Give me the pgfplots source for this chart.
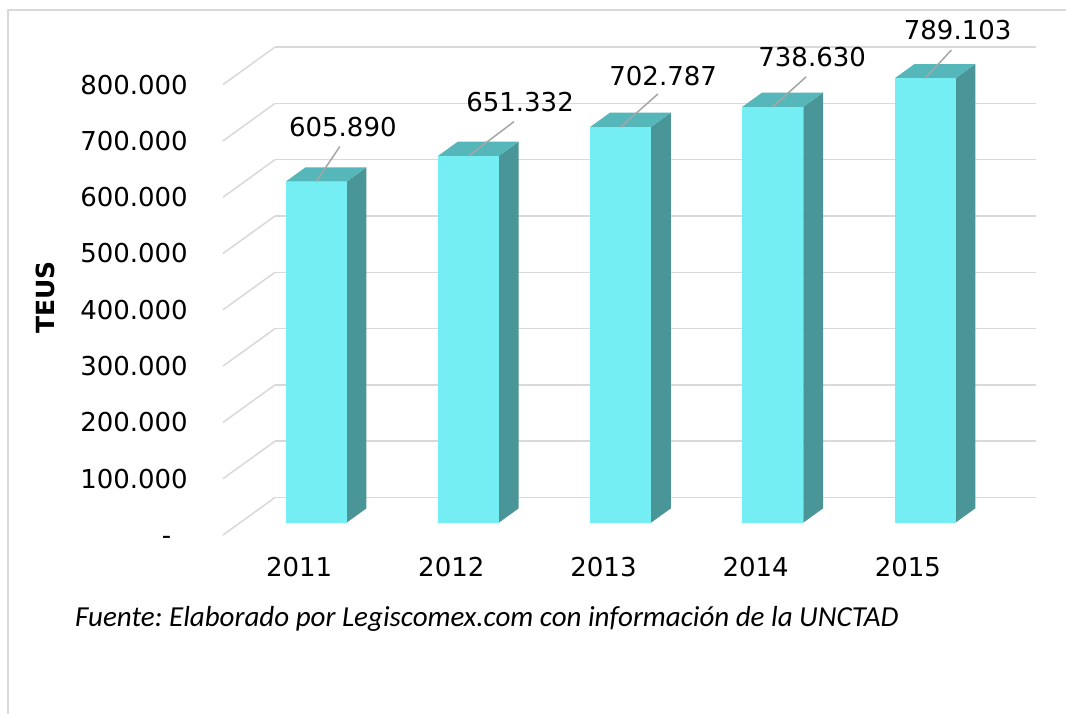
\documentclass[border=0pt]{standalone}
\usepackage{pgfplots}
\pgfplotsset{compat=1.18}
\usepackage{pgfplotstable}
\usepackage{fontspec}
\setmainfont{DejaVu Sans}
\newfontfamily\carlito{Carlito}
\definecolor{barfront}{HTML}{74EEF2}
\definecolor{bartop}{HTML}{55B7BA}
\definecolor{barside}{HTML}{4A9597}
\definecolor{gridgray}{HTML}{D9D9D9}
\definecolor{leadergray}{HTML}{A6A6A6}
\definecolor{framegray}{HTML}{D9D9D9}

% teus = value; lx,ly = label offset (pt); ex,ey = leader line end offset (pt)
\pgfplotstableread{
year teus lx ly ex ey
2011 605890 26.6 54.4 23.6 35.0
2012 651332 51.6 53.8 45.6 34.3
2013 702787 42.5 51.3 37.3 33.0
2014 738630 39.3 49.3 33.3 30.0
2015 789103 32.6 48.3 26.3 28.3
}\teusdata

\begin{document}
\frenchspacing
\begin{tikzpicture}
\useasboundingbox (0,0) rectangle (1066pt,713pt);
\fill[white] (0,0) rectangle (1066pt,713pt);
\draw[framegray, line width=2pt] (8pt,-5pt) -- (8pt,703pt) -- (1070pt,703pt);
\begin{axis}[
  at={(223pt,178pt)}, anchor=origin,
  x={(152.2pt,0pt)}, y={(52pt,37.5pt)}, z={(0pt,0.563pt)},
  xmin=0, xmax=5, ymin=0, ymax=1, zmin=0, zmax=800,
  clip=false,
  axis line style={draw=none},
  tick style={draw=none},
  zmajorgrids=true,
  major grid style={gridgray, line width=1.5pt},
  xtick={0.5,1.5,2.5,3.5,4.5},
  xticklabels={2011,2012,2013,2014,2015},
  ytick=\empty,
  ztick={0,100,200,300,400,500,600,700,800},
  zticklabels={{-\phantom{0}},100.000,200.000,300.000,400.000,500.000,600.000,700.000,800.000},
  tick label style={font=\fontsize{26}{31}\selectfont, inner sep=0pt, black},
  xticklabel style={anchor=center, yshift=-31.7pt},
  zticklabel style={anchor=east, xshift=-35pt},
]
\pgfplotsinvokeforeach{0,...,4}{
  \pgfplotstablegetelem{#1}{teus}\of\teusdata \let\tv\pgfplotsretval
  \pgfplotstablegetelem{#1}{lx}\of\teusdata \let\lx\pgfplotsretval
  \pgfplotstablegetelem{#1}{ly}\of\teusdata \let\ly\pgfplotsretval
  \pgfplotstablegetelem{#1}{ex}\of\teusdata \let\ex\pgfplotsretval
  \pgfplotstablegetelem{#1}{ey}\of\teusdata \let\ey\pgfplotsretval
  \pgfkeys{/pgf/fpu=true,/pgf/fpu/output format=fixed}
  \pgfmathsetmacro\h{\tv/1000}
  \pgfmathsetmacro\bc{#1+0.5}
  \pgfmathsetmacro\xl{#1+0.3}
  \pgfmathsetmacro\xr{#1+0.7}
  \pgfkeys{/pgf/fpu=false}
  \edef\temp{%
    \noexpand\addplot3[fill=barside, draw=none, mark=none] coordinates {(\xr,0.33,0) (\xr,0.71,0) (\xr,0.71,\h) (\xr,0.33,\h)};
    \noexpand\addplot3[fill=bartop, draw=none, mark=none] coordinates {(\xl,0.33,\h) (\xr,0.33,\h) (\xr,0.71,\h) (\xl,0.71,\h)};
    \noexpand\addplot3[fill=barfront, draw=none, mark=none] coordinates {(\xl,0.33,0) (\xr,0.33,0) (\xr,0.33,\h) (\xl,0.33,\h)};
    \noexpand\draw[leadergray, line width=1.5pt] (axis cs:\bc,0.33,\h) -- ++(\ex pt,\ey pt);
    \noexpand\node[inner sep=0pt, anchor=center, font=\noexpand\fontsize{26}{31}\noexpand\selectfont, xshift=\lx pt, yshift=\ly pt] at (axis cs:\bc,0.33,\h) {\noexpand\pgfmathprintnumber[fixed, precision=0, 1000 sep={.}, assume math mode=true]{\tv}};
  }\temp
}
\end{axis}
\node[rotate=90, inner sep=0pt, font=\fontsize{25}{30}\selectfont\bfseries] at (45.5pt,415.5pt) {TEUS};
\node[anchor=base west, inner sep=0pt, font=\carlito\itshape\fontsize{29}{34}\selectfont] at (75pt,86.3pt) {Fuente: Elaborado por Legiscomex.com con información de la UNCTAD};
\end{tikzpicture}
\end{document}
